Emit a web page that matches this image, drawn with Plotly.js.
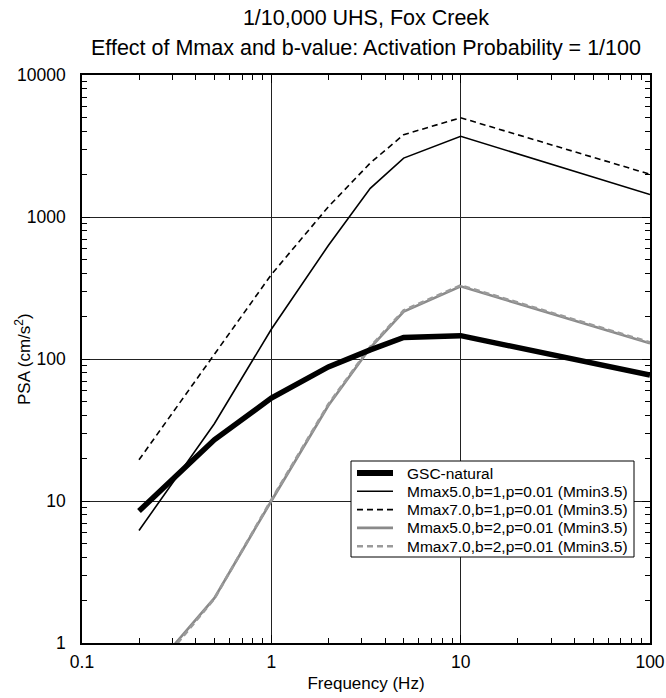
<!DOCTYPE html>
<html>
<head>
<meta charset="utf-8">
<script src="https://cdn.plot.ly/plotly-3.0.1.min.js"></script>
<style>html,body{margin:0;padding:0;background:#fff;}#chart{width:666px;height:698px;}</style>
</head>
<body>
<div id="chart"></div>
<script>
// ---- data ----
var freq = [0.2, 0.5, 1, 2, 3.33, 5, 10, 100];
var gscNatural = [8.5, 27, 53, 88, 116, 142, 146, 77];
var mmax5b1 = [6.2, 35, 162, 630, 1590, 2600, 3700, 1440];
var mmax7b1 = [19.5, 107, 393, 1180, 2400, 3800, 5000, 2000];
var mmax5b2 = [0.5, 2.07, 10, 47, 120, 216, 325, 129];
var mmax7b2 = [0.47, 2.05, 10.2, 48, 122, 220, 330, 131];
var seriesNames = ["GSC-natural",
  "Mmax5.0,b=1,p=0.01 (Mmin3.5)",
  "Mmax7.0,b=1,p=0.01 (Mmin3.5)",
  "Mmax5.0,b=2,p=0.01 (Mmin3.5)",
  "Mmax7.0,b=2,p=0.01 (Mmin3.5)"];
var xTickVals = [0.1, 1, 10, 100];
var xTickText = ["0.1", "1", "10", "100"];
var yTickVals = [1, 10, 100, 1000, 10000];
var yTickText = ["1", "10", "100", "1000", "10000"];
var titleLine1 = "1/10,000 UHS, Fox Creek";
var titleLine2 = "Effect of Mmax and b-value: Activation Probability = 1/100";
var xTitle = "Frequency (Hz)";
var yTitle = "PSA (cm/s<sup>2</sup>)";

// ---- styles ----
var FONT = "Liberation Sans, Arial, Helvetica, sans-serif";
var seriesValues = [gscNatural, mmax5b1, mmax7b1, mmax5b2, mmax7b2];
var colors = ["#000000", "#000000", "#000000", "#8a8a8a", "#9a9a9a"];
var widths = [5.5, 1.6, 1.6, 2.6, 2.6];
var dashes = ["solid", "solid", "6px,4px", "solid", "6px,4px"];

var traces = seriesValues.map(function (v, i) {
  return {x: freq, y: v, type: "scatter", mode: "lines", name: seriesNames[i],
          line: {color: colors[i], width: widths[i], dash: dashes[i]},
          showlegend: false, hoverinfo: "skip"};
});
// draw order: gray first, then thin black, then GSC on top
traces = [traces[3], traces[4], traces[1], traces[2], traces[0]];

function minorVals(lo, hi) {
  var out = [];
  for (var e = lo; e < hi; e++) for (var k = 2; k <= 9; k++) out.push(k * Math.pow(10, e));
  return out;
}

// plot area in px
var L = 82, R = 650, T = 75, B = 643;
function px2x(p) { return (p - L) / (R - L); }
function px2y(p) { return (B - p) / (B - T); }

var shapes = [];
var annotations = [];
// legend box
var boxL = 351, boxR = 634, boxT = 461, boxB = 557;
shapes.push({type: "rect", xref: "paper", yref: "paper", layer: "above",
  x0: px2x(boxL), x1: px2x(boxR), y0: px2y(boxB), y1: px2y(boxT),
  fillcolor: "#ffffff", line: {color: "#000", width: 1}});
var rowY = [473, 491.3, 509.6, 527.9, 546.2];
for (var i = 0; i < seriesNames.length; i++) {
  shapes.push({type: "line", xref: "paper", yref: "paper", layer: "above",
    x0: px2x(357), x1: px2x(393), y0: px2y(rowY[i]), y1: px2y(rowY[i]),
    line: {color: colors[i], width: i === 0 ? 6 : widths[i], dash: dashes[i]}});
  annotations.push({xref: "paper", yref: "paper", x: px2x(405), y: px2y(rowY[i]),
    xanchor: "left", yanchor: "middle", showarrow: false, text: seriesNames[i],
    font: {family: FONT, size: 15.5, color: "#000"}});
}
// second title line
annotations.push({xref: "paper", yref: "paper", x: 0.5, y: px2y(48), xanchor: "center",
  yanchor: "middle", showarrow: false, text: titleLine2,
  font: {family: FONT, size: 21.5, color: "#000"}});
// y axis title
annotations.push({xref: "paper", yref: "paper", x: px2x(23), y: 0.5, xanchor: "center",
  yanchor: "middle", showarrow: false, textangle: -90, text: yTitle,
  font: {family: FONT, size: 17, color: "#000"}});

var axisCommon = {
  type: "log", showline: true, linecolor: "#000", linewidth: 1.8, mirror: "ticks",
  ticks: "inside", ticklen: 8, tickcolor: "#000", tickwidth: 1,
  showgrid: true, gridcolor: "#222", gridwidth: 1, zeroline: false,
  tickfont: {family: FONT, size: 17.5, color: "#000"}
};

var layout = {
  width: 666, height: 698,
  margin: {l: L, r: 666 - R, t: T, b: 698 - B},
  paper_bgcolor: "#fff", plot_bgcolor: "#fff",
  font: {family: FONT, color: "#000"},
  title: {text: titleLine1, x: 0.5, xanchor: "center", xref: "paper",
          y: 1 - 17 / 698, yanchor: "middle", yref: "container",
          font: {family: FONT, size: 21.5, color: "#000"}},
  xaxis: Object.assign({}, axisCommon, {
    range: [-1, 2], tickmode: "array", tickvals: xTickVals, ticktext: xTickText,
    ticklabelstandoff: 2,
    minor: {tickmode: "array", tickvals: minorVals(-1, 2), ticks: "inside", ticklen: 5,
            tickcolor: "#000", showgrid: false},
    title: {text: xTitle, standoff: 6, font: {family: FONT, size: 17, color: "#000"}}
  }),
  yaxis: Object.assign({}, axisCommon, {
    range: [0, 4], tickmode: "array", tickvals: yTickVals, ticktext: yTickText,
    ticklabelstandoff: 11,
    minor: {tickmode: "array", tickvals: minorVals(0, 4), ticks: "inside", ticklen: 5,
            tickcolor: "#000", showgrid: false}
  }),
  shapes: shapes,
  annotations: annotations,
  showlegend: false
};

Plotly.newPlot("chart", traces, layout, {displayModeBar: false, staticPlot: true});
</script>
</body>
</html>
